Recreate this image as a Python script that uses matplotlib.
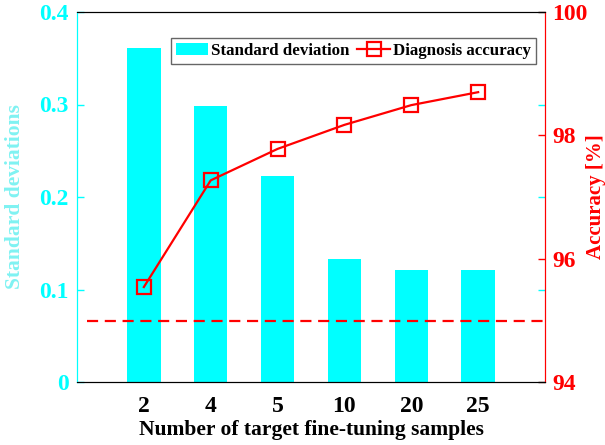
import matplotlib
matplotlib.use("Agg")
import matplotlib.pyplot as plt
import numpy as np

categories = ["2", "4", "5", "10", "20", "25"]
std_dev = [0.361, 0.298, 0.223, 0.133, 0.121, 0.121]
accuracy = [95.54, 97.27, 97.78, 98.17, 98.49, 98.70]
baseline_acc = 94.99

plt.rcParams['font.family'] = ['Liberation Serif', 'DejaVu Serif']
plt.rcParams['font.weight'] = 'bold'

fig = plt.figure(figsize=(6.05, 4.45), dpi=100)
ax = fig.add_axes([77/605, 1-382/445, (545-77)/605, (382-12)/445])
ax2 = ax.twinx()

x = np.arange(1, len(categories) + 1)
bars = ax.bar(x, std_dev, width=0.5, color='#00FFFF', label='Standard deviation', zorder=2)
ax.set_xlim(0, len(categories) + 1)
ax.set_ylim(0, 0.4)
ax.set_yticks([0, 0.1, 0.2, 0.3, 0.4])
ax.set_yticklabels(['0', '0.1', '0.2', '0.3', '0.4'])
ax.set_xticks(x)
ax.set_xticklabels(categories)
ax.tick_params(axis='y', direction='in', colors='#00FFFF', labelsize=17, right=True, length=5, width=1, pad=6)
ax.tick_params(axis='x', direction='in', colors='black', labelsize=17, length=5, width=1, pad=10)
ax.set_xlabel('Number of target fine-tuning samples', fontsize=15.5, fontweight='bold', labelpad=2)
ax.set_ylabel('Standard deviations', fontsize=15.5, fontweight='bold', color='#7FF2F2')
ax.yaxis.set_label_coords(-0.111, 0.5)

ax2.set_ylim(94, 100)
ax2.set_yticks([94, 96, 98, 100])
line, = ax2.plot(x, accuracy, color='#FF0000', lw=1.6, marker='s', ms=10, mfc='none',
                 mec='#FF0000', mew=1.6, label='Diagnosis accuracy', zorder=3)
ax2.plot([0.15, len(categories) + 1], [baseline_acc, baseline_acc], color='#FF0000', lw=1.6,
         ls=(0, (5, 3)), zorder=3)
ax2.tick_params(axis='y', direction='in', colors='#FF0000', labelsize=17, length=5, width=1, pad=5)
ax2.set_ylabel('Accuracy [%]', fontsize=15, fontweight='bold', color='#FF0000')
ax2.yaxis.set_label_coords(1.087, 0.5)

for a in (ax, ax2):
    a.spines['left'].set_color('#00FFFF')
    a.spines['right'].set_color('#FF0000')
    a.spines['top'].set_color('black')
    a.spines['bottom'].set_color('black')

leg = ax2.legend([bars, line], ['Standard deviation', 'Diagnosis accuracy'], ncol=2,
                 loc='upper right', bbox_to_anchor=(0.981, 0.93), borderaxespad=0,
                 fancybox=False, edgecolor='#666666', framealpha=1,
                 handlelength=1.9, handletextpad=0.2, columnspacing=0.45,
                 borderpad=0.3, prop={'weight': 'bold', 'size': 12.2})

fig.savefig('out.png', dpi=100)
